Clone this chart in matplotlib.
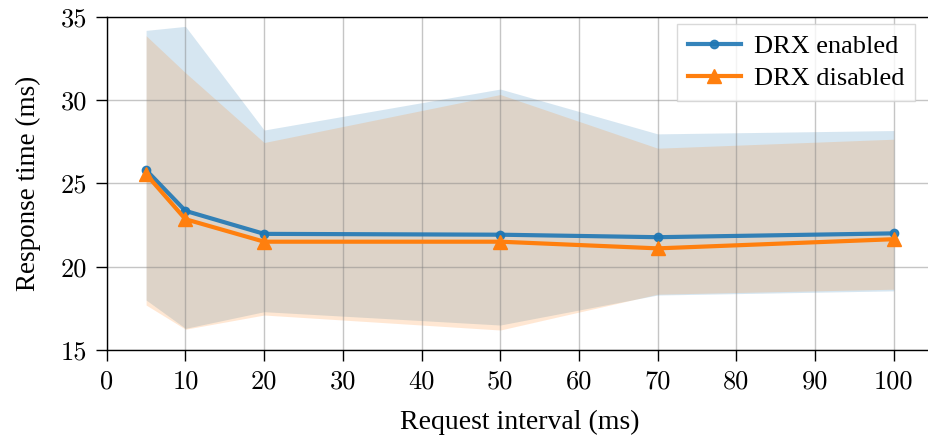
import matplotlib
matplotlib.use("Agg")
import matplotlib.pyplot as plt

# Request interval (ms)
intervals = [5, 10, 20, 50, 70, 100]

# DRX enabled: mean response time and spread band
drx_on_mean = [25.8, 23.35, 21.97, 21.92, 21.77, 22.0]
drx_on_low = [18.0, 16.3, 17.3, 16.5, 18.3, 18.55]
drx_on_high = [34.18, 34.42, 28.2, 30.66, 27.97, 28.17]

# DRX disabled
drx_off_mean = [25.55, 22.85, 21.5, 21.5, 21.1, 21.65]
drx_off_low = [17.7, 16.25, 17.1, 16.2, 18.35, 18.65]
drx_off_high = [33.86, 31.64, 27.45, 30.33, 27.11, 27.65]

LABEL_FONT = "Liberation Serif"
TICK_FONT = "cmr10"

fig = plt.figure(figsize=(9.29, 4.4), dpi=100)
ax = fig.add_axes([0.1149, 0.2045, 0.8896, 0.7575])

blue = "#1f77b4"
orange = "#ff7f0e"

ax.fill_between(intervals, drx_on_low, drx_on_high, color=blue, alpha=0.18, linewidth=0)
ax.fill_between(intervals, drx_off_low, drx_off_high, color=orange, alpha=0.18, linewidth=0)

ax.plot(intervals, drx_on_mean, color=blue, alpha=0.9, linewidth=3, marker="o",
        markersize=6, label="DRX enabled", zorder=3)
ax.plot(intervals, drx_off_mean, color=orange, linewidth=3, marker="^",
        markersize=10, label="DRX disabled", zorder=3)

ax.set_xlim(0, 105)
ax.set_ylim(15, 35)
ax.set_xticks(range(0, 101, 10))
ax.set_yticks([15, 20, 25, 30, 35])
ax.grid(True, color="#808080", alpha=0.45, linewidth=1)

ax.tick_params(direction="out", length=8, width=1, labelsize=19, pad=6)
for lbl in ax.get_xticklabels() + ax.get_yticklabels():
    lbl.set_fontfamily(TICK_FONT)

ax.set_xlabel("Request interval (ms)", fontsize=20, fontfamily=LABEL_FONT, labelpad=12)
ax.set_ylabel("Response time (ms)", fontsize=19.5, fontfamily=LABEL_FONT, labelpad=14)

# the plot area runs off the right edge, so no right border
ax.spines["right"].set_visible(False)
for side in ["top", "left", "bottom"]:
    ax.spines[side].set_linewidth(1)

leg = ax.legend(loc="upper right", bbox_to_anchor=(0.978, 0.979), borderaxespad=0,
                prop={"family": LABEL_FONT, "size": 19}, fancybox=False,
                edgecolor="#d0d0d0", framealpha=0.8, handlelength=2.0,
                borderpad=0.4, labelspacing=0.35, handletextpad=0.5)

fig.savefig("out.png", dpi=100)
